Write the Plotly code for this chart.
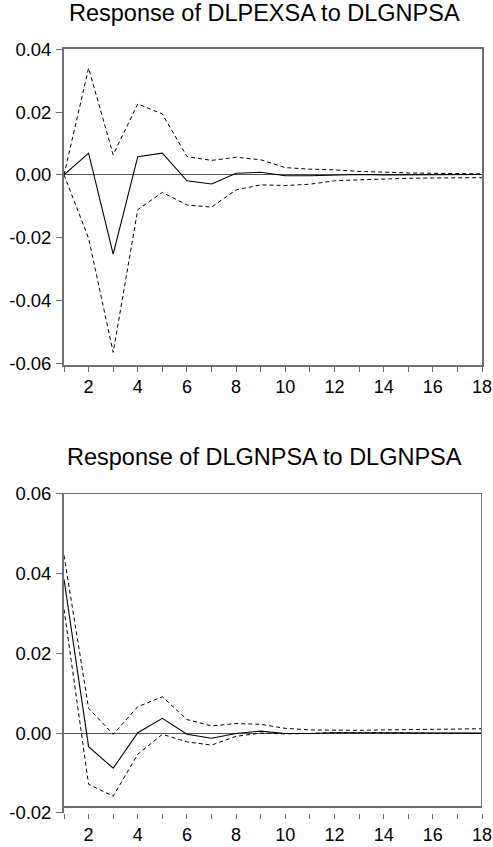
import plotly.graph_objects as go

periods = list(range(1, 19))

# Response of DLPEXSA to DLGNPSA
pex_resp = [0.0, 0.0069, -0.0253, 0.0058, 0.0069, -0.0019, -0.0029, 0.0005, 0.0008,
            -0.0003, -0.0003, 0.0000, 0.0001, 0.0000, 0.0000, 0.0001, 0.0000, 0.0001]
pex_upper = [0.0, 0.0340, 0.0064, 0.0226, 0.0194, 0.0058, 0.0046, 0.0056, 0.0048,
             0.0023, 0.0018, 0.0016, 0.0011, 0.0008, 0.0006, 0.0005, 0.0004, 0.0003]
pex_lower = [0.0, -0.0202, -0.0566, -0.0111, -0.0056, -0.0096, -0.0103, -0.0048, -0.0032,
             -0.0034, -0.0030, -0.0019, -0.0016, -0.0013, -0.0011, -0.0010, -0.0009, -0.0009]

# Response of DLGNPSA to DLGNPSA
gnp_resp = [0.0385, -0.0034, -0.0088, 0.0001, 0.0037, -0.0003, -0.0013, -0.0001, 0.0005,
            -0.0001, -0.0001, 0.0001, 0.0001, 0.0001, 0.0000, 0.0000, 0.0000, 0.0000]
gnp_upper = [0.0445, 0.0062, -0.0003, 0.0066, 0.0091, 0.0034, 0.0018, 0.0024, 0.0022,
             0.0012, 0.0008, 0.0007, 0.0007, 0.0008, 0.0009, 0.0009, 0.0010, 0.0011]
gnp_lower = [0.0310, -0.0128, -0.0158, -0.0053, -0.0003, -0.0022, -0.0030, -0.0008, 0.0000,
             -0.0002, -0.0001, 0.0001, 0.0001, 0.0001, 0.0000, -0.0001, -0.0001, -0.0001]

top_ticks = [-0.06, -0.04, -0.02, 0.0, 0.02, 0.04]
bot_ticks = [-0.02, 0.0, 0.02, 0.04, 0.06]
x_ticktext = [str(p) if p % 2 == 0 else "" for p in periods]

titles = ["Response of DLPEXSA to DLGNPSA", "Response of DLGNPSA to DLGNPSA"]

FONT = "Liberation Sans, Arial, sans-serif"
GRAY = "#6e6e6e"


def fmt(v):
    return ("%.2f" % v).replace("\u2212", "-")


fig = go.Figure()
for xa, ya, resp, up, lo in [("x", "y", pex_resp, pex_upper, pex_lower),
                             ("x2", "y2", gnp_resp, gnp_upper, gnp_lower)]:
    fig.add_trace(go.Scatter(x=periods, y=up, xaxis=xa, yaxis=ya, mode="lines",
                             line=dict(color="black", width=1, dash="4px,3px"),
                             showlegend=False, hoverinfo="skip"))
    fig.add_trace(go.Scatter(x=periods, y=lo, xaxis=xa, yaxis=ya, mode="lines",
                             line=dict(color="black", width=1, dash="4px,3px"),
                             showlegend=False, hoverinfo="skip"))
    fig.add_trace(go.Scatter(x=periods, y=resp, xaxis=xa, yaxis=ya, mode="lines",
                             line=dict(color="black", width=1.1),
                             showlegend=False))

top_dom = [0.5864, 1.0]
bot_dom = [0.0, 0.4188]

common_x = dict(range=[1, 18], tickmode="array", tickvals=periods, ticktext=x_ticktext,
                ticks="outside", ticklen=5, tickwidth=1, tickcolor=GRAY,
                showgrid=False, zeroline=False, automargin=False,
                tickfont=dict(family=FONT, size=18, color="black"))
common_y = dict(tickmode="array", ticks="outside", ticklen=6, tickwidth=1, tickcolor=GRAY,
                showgrid=False, zeroline=True, zerolinecolor="#555555", zerolinewidth=1,
                automargin=False,
                tickfont=dict(family=FONT, size=18.5, color="black"),
                ticklabelstandoff=1)

fig.update_layout(
    width=493, height=847,
    margin=dict(l=64, r=11, t=49, b=34),
    paper_bgcolor="white", plot_bgcolor="white",
    xaxis=dict(**common_x, anchor="y", showline=True, linecolor=GRAY, linewidth=1.8,
               mirror=True),
    yaxis=dict(**common_y, domain=top_dom, anchor="x", range=[-0.0606, 0.0401],
               tickvals=top_ticks, ticktext=[fmt(v) for v in top_ticks],
               showline=True, linecolor=GRAY, linewidth=1.8, mirror=True),
    xaxis2=dict(**common_x, anchor="y2", showline=False),
    yaxis2=dict(**common_y, domain=bot_dom, anchor="x2", range=[-0.02, 0.0601],
                tickvals=bot_ticks, ticktext=[fmt(v) for v in bot_ticks],
                showline=True, linecolor=GRAY, linewidth=1.8),
)

# box frame of the lower panel (sits slightly above the -0.02 axis position)
box_bottom = -0.0185
box_top = 0.0601
for (x0, y0, x1, y1) in [(1, box_top, 18, box_top), (18, box_bottom, 18, box_top),
                         (1, box_bottom, 18, box_bottom)]:
    fig.add_shape(type="line", xref="x2", yref="y2", x0=x0, y0=y0, x1=x1, y1=y1,
                  line=dict(color=GRAY, width=1.8))

plot_h = 847 - 49 - 34
fig.add_annotation(text=titles[0], xref="paper", yref="paper", x=0.4785,
                   y=1 + (49 - 13) / plot_h, xanchor="center", yanchor="middle",
                   showarrow=False, font=dict(family=FONT, size=23.5, color="black"))
fig.add_annotation(text=titles[1], xref="paper", yref="paper", x=0.4785,
                   y=(813 - 456.5) / plot_h, xanchor="center", yanchor="middle",
                   showarrow=False, font=dict(family=FONT, size=23.5, color="black"))

fig.write_html("out.html", config={"displayModeBar": False},
               post_script="document.body.style.margin='0';document.body.style.overflow='hidden';")
